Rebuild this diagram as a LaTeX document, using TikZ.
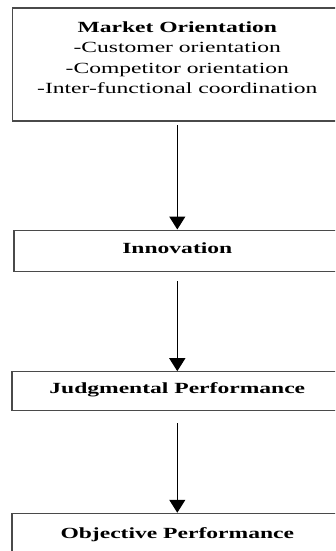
\documentclass[tikz,border=0pt]{standalone}
\usepackage{fontspec}
\setmainfont{Liberation Serif}
\newfontfamily\widefont[FakeStretch=1.52]{Liberation Serif}
\usetikzlibrary{arrows.meta}
\definecolor{boxline}{HTML}{4A4A4A}
\tikzset{
  box/.style={draw=boxline, line width=1.1pt, rectangle, align=center,
    inner sep=0pt, text depth=6pt,
    font=\widefont\fontsize{15.5}{20.5}\selectfont},
  flow/.style={draw=black, line width=1.3pt, shorten <=3.5pt,
    -{Triangle[width=16pt,length=13pt]}},
}
\begin{document}
\begin{tikzpicture}
\clip (0pt,0pt) rectangle (335pt,-551pt);
\node[box, minimum width=329.6pt, minimum height=113pt, text depth=14pt] (mo) at (177.3pt,-64.5pt)
  {\textbf{Market Orientation}\\-Customer orientation\\-Competitor orientation\\-Inter-functional coordination};
\node[box, minimum width=326.6pt, minimum height=41.7pt] (inn) at (177.3pt,-250.9pt)
  {\textbf{Innovation}};
\node[box, minimum width=330.6pt, minimum height=38.3pt] (jp) at (177.3pt,-390.9pt)
  {\textbf{Judgmental Performance}};
\node[box, minimum width=330.6pt, minimum height=44.8pt] (op) at (177.3pt,-535.7pt)
  {\textbf{Objective Performance}};
\draw[flow] (mo) -- (inn);
\draw[flow, shorten <=9pt] (inn) -- (jp);
\draw[flow, shorten <=12.7pt] (jp) -- (op);
\end{tikzpicture}
\end{document}
